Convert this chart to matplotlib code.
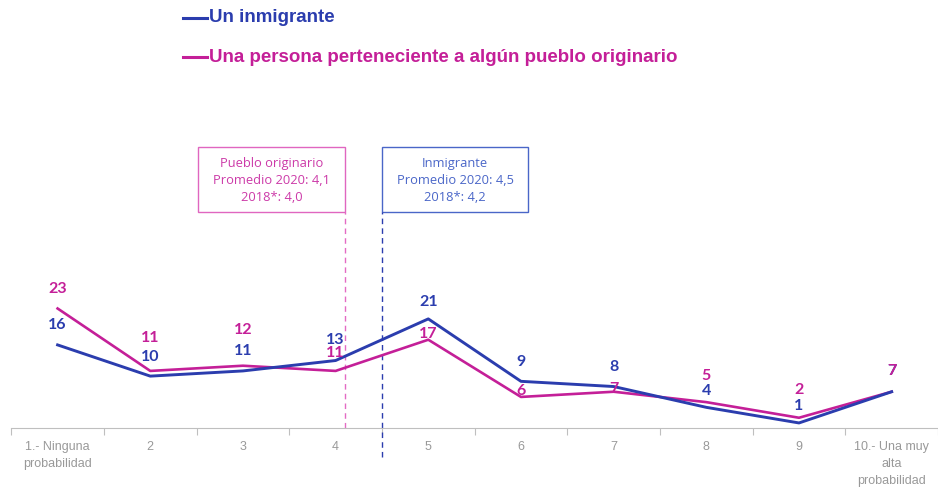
import numpy as np
import matplotlib.pyplot as plt
from matplotlib.patches import Rectangle

categorias = ["1.- Ninguna\nprobabilidad", "2", "3", "4", "5", "6", "7", "8", "9",
              "10.- Una muy\nalta\nprobabilidad"]
inmigrante = [16, 10, 11, 13, 21, 9, 8, 4, 1, 7]
pueblo = [23, 11, 12, 11, 17, 6, 7, 5, 2, 7]
prom_pueblo = 4.1
prom_inmig = 4.5

azul = '#2B3DAE'
rosa = '#C41F98'

# label offsets (points) above each point
off_inm = [14, 14, 14, 15, 12, 14, 14, 12, 12, 15]
off_pue = [14, 24, 26, 13, 4, 4, 2, 19, 20, 15]

fig = plt.figure(figsize=(9.38, 4.91), dpi=100)
ax = fig.add_axes([0.012, 0.128, 0.988, 0.64])

x = np.arange(1, 11)
ax.plot(x, pueblo, color=rosa, lw=1.9, zorder=3)
ax.plot(x, inmigrante, color=azul, lw=2.1, zorder=3)

for i in range(len(x)):
    ax.annotate(str(inmigrante[i]), (x[i], inmigrante[i]), xytext=(0, off_inm[i]),
                textcoords='offset points', ha='center', va='center',
                color=azul, fontsize=11.5, family='Lato', fontweight='bold', zorder=4)
    ax.annotate(str(pueblo[i]), (x[i], pueblo[i]), xytext=(0, off_pue[i]),
                textcoords='offset points', ha='center', va='center',
                color=rosa, fontsize=11.5, family='Lato', fontweight='bold', zorder=4)

ax.set_xlim(0.5, 10.5)
ax.set_ylim(0, 60.4)

# dashed average lines
ax.plot([prom_pueblo, prom_pueblo], [0, 41.5], color='#E46BC4', lw=1, ls=(0, (4, 3)))
ax.plot([prom_inmig, prom_inmig], [-5.5, 41.5], color=azul, lw=1, ls=(0, (4, 3)),
        clip_on=False)

# boxes
bw = 1.58
ax.add_patch(Rectangle((prom_pueblo - bw, 41.5), bw, 12.5, fill=False,
                       ec='#E066C0', lw=1))
ax.add_patch(Rectangle((prom_inmig, 41.5), bw, 12.5, fill=False,
                       ec='#4A66C8', lw=1))
ax.text(prom_pueblo - bw / 2, 47.6, "Pueblo originario\nPromedio 2020: 4,1\n2018*: 4,0",
        ha='center', va='center', color='#CC3AA8', fontsize=9.3, linespacing=1.4,
        family='Open Sans')
ax.text(prom_inmig + bw / 2, 47.6, "Inmigrante\nPromedio 2020: 4,5\n2018*: 4,2",
        ha='center', va='center', color='#4A66C8', fontsize=9.3, linespacing=1.4,
        family='Open Sans')

for s in ['top', 'right', 'left']:
    ax.spines[s].set_visible(False)
ax.spines['bottom'].set_color('#BFBFBF')
ax.set_yticks([])
ax.set_xticks(np.arange(0.5, 11, 1))
ax.set_xticklabels([])
ax.tick_params(axis='x', length=5, color='#BFBFBF')
ax.set_xticks(x, minor=True)
ax.set_xticklabels(categorias, minor=True, color='#999999', fontsize=9,
                   family='Liberation Sans', linespacing=1.6)
ax.tick_params(axis='x', which='minor', length=0, pad=9)

# legend
fig.lines.append(plt.Line2D([183 / 938, 207 / 938], [1 - 18 / 491] * 2,
                            color=azul, lw=2.2, transform=fig.transFigure))
fig.lines.append(plt.Line2D([183 / 938, 207 / 938], [1 - 57 / 491] * 2,
                            color=rosa, lw=2.2, transform=fig.transFigure))
fig.text(209 / 938, 1 - 18 / 491, "Un inmigrante", color=azul, fontsize=13.5,
         fontweight='bold', family='Liberation Sans', va='center')
fig.text(209 / 938, 1 - 57 / 491, "Una persona perteneciente a algún pueblo originario",
         color=rosa, fontsize=13.5, fontweight='bold',
         family='Liberation Sans', va='center')

fig.savefig('out.png', dpi=100)
